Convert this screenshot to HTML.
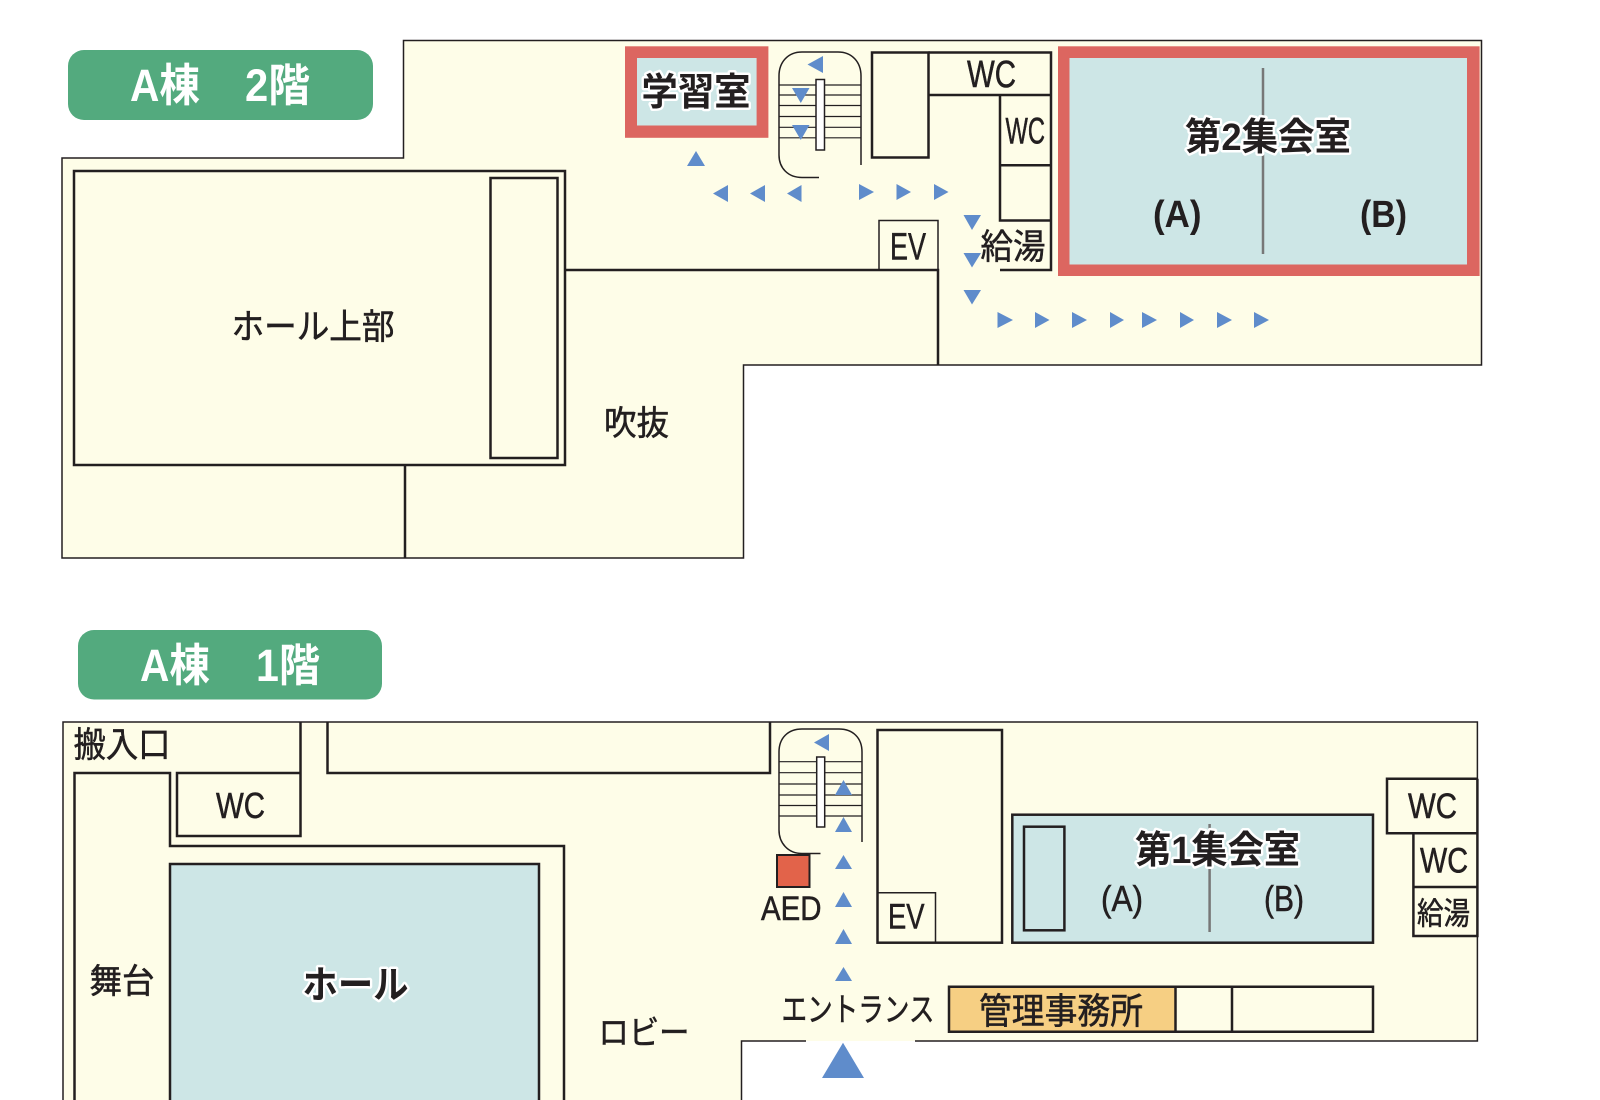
<!DOCTYPE html>
<html lang="ja"><head><meta charset="utf-8"><title>A棟 フロアマップ</title>
<style>
html,body{margin:0;padding:0;background:#fff;width:1600px;height:1100px;overflow:hidden}
svg{display:block}
text{font-family:"Liberation Sans","Noto Sans CJK JP",sans-serif;fill:#231f20;stroke:#231f20;stroke-width:.55px}
.b{font-weight:700;stroke:none}
.h{font-weight:700;paint-order:stroke;stroke:#fff;stroke-width:5px;stroke-linejoin:round}
.w{fill:#fff;font-weight:700;stroke:none}
.l{fill:none;stroke:#231f20;stroke-width:2.5}
.t{fill:none;stroke:#231f20;stroke-width:1.5}
.f{fill:#fefde8;stroke:#231f20;stroke-width:1.5}
.s{fill:none;stroke:#231f20;stroke-width:1.2}
.a{fill:#5f8ccb}
</style></head><body>
<svg width="1600" height="1100" viewBox="0 0 1600 1100" xmlns="http://www.w3.org/2000/svg">
<!-- 2F -->
<path class="f" d="M403.500 40.500H1481.500V365H743.500V558H62V158H403.500Z"/>
<rect x="68" y="50" width="305" height="70" rx="16" fill="#53aa7e"/>
<text class="w" x="130" y="101" font-size="45" textLength="70" lengthAdjust="spacingAndGlyphs">A棟</text>
<text class="w" x="245" y="101" font-size="45" textLength="65" lengthAdjust="spacingAndGlyphs">2階</text>
<rect class="l" x="74" y="171" width="491" height="294"/>
<rect class="l" x="490.500" y="178" width="67" height="280"/>
<path class="l" d="M565 270H938V365M405 465V558"/>
<text x="231.500" y="339" font-size="35" textLength="163" lengthAdjust="spacingAndGlyphs">ホール上部</text>
<text x="604" y="435" font-size="34" textLength="65" lengthAdjust="spacingAndGlyphs">吹抜</text>

<rect x="625" y="46.300" width="143.400" height="91.500" fill="#dc6660"/>
<rect x="637" y="58" width="119.600" height="67.500" fill="#cde6e6"/>
<text class="h" x="641.500" y="105" font-size="38" textLength="109" lengthAdjust="spacingAndGlyphs">学習室</text>

<!-- 2F stairs -->
<path class="t" d="M819 177.500H802C788 177.500 779 168 779 155V76C779 62 788 52 802 52H838C852 52 861 62 861 76V165"/>
<path class="s" d="M779 85H861M779 95H861M779 105.500H861M779 116.500H861M779 127.300H861M779 137.800H861"/>
<rect x="816" y="79.500" width="8.500" height="70.500" fill="#fff" stroke="#231f20" stroke-width="1.500"/>
<path class="a" d="M823 56V73L807.500 64.500Z"/>
<path class="a" d="M792 88H809.500L800.800 103ZM792 125H809.500L800.800 140Z"/>

<rect class="l" x="872" y="52.500" width="56.500" height="105"/>
<path class="l" d="M928.500 52.500H1051V270H1000M928.500 95H1051M1000 95V220.500H1051M1000 165.300H1051"/>
<path class="t" d="M879 270V220.500H938V270"/>
<text x="967" y="87" font-size="38" textLength="49" lengthAdjust="spacingAndGlyphs">WC</text>
<text x="1005.500" y="143.500" font-size="37" textLength="39.500" lengthAdjust="spacingAndGlyphs">WC</text>
<text x="890" y="259.500" font-size="38" textLength="36" lengthAdjust="spacingAndGlyphs">EV</text>
<text x="980.500" y="259" font-size="35" textLength="65" lengthAdjust="spacingAndGlyphs">給湯</text>

<rect x="1058" y="46.300" width="421.600" height="229.700" fill="#dc6660"/>
<rect x="1069.500" y="58" width="397.500" height="206.500" fill="#cde6e6"/>
<path d="M1263 68V254" stroke="#777" stroke-width="2.500" fill="none"/>
<text class="h" x="1185" y="150" font-size="38" textLength="166" lengthAdjust="spacingAndGlyphs">第2集会室</text>
<text class="b" x="1153" y="227" font-size="38" textLength="48.500" lengthAdjust="spacingAndGlyphs">(A)</text>
<text class="b" x="1360" y="227" font-size="38" textLength="47" lengthAdjust="spacingAndGlyphs">(B)</text>

<path class="a" d="M705 166H687L696 151Z"/>
<path class="a" d="M728 185V202L713 193.500ZM765 185V202L750 193.500ZM801.500 185V202L787 193.500Z"/>
<path class="a" d="M859 184V200L874 192ZM896.500 184V200L911 192ZM934 184V200L948.500 192Z"/>
<path class="a" d="M963.500 215H981L972 230ZM963.500 253H981L972 267.500ZM963.500 290H981L972 304.500Z"/>
<path class="a" d="M997.500 312V328L1013 320ZM1035 312V328L1049.500 320ZM1072 312V328L1087 320ZM1110 312V328L1124 320ZM1142 312V328L1157 320ZM1180 312V328L1194 320ZM1217 312V328L1232 320ZM1254 312V328L1269 320Z"/>

<!-- 1F -->
<path d="M63 722H1477.400V1041H741.500V1100H63Z" fill="#fefde8"/>
<path class="t" d="M63 1100V722H1477.400V1041H915M806 1041H741.500V1100"/>
<rect x="78" y="630" width="304" height="69.500" rx="16" fill="#53aa7e"/>
<text class="w" x="140" y="681" font-size="45" textLength="70" lengthAdjust="spacingAndGlyphs">A棟</text>
<text class="w" x="256" y="681" font-size="45" textLength="64" lengthAdjust="spacingAndGlyphs">1階</text>

<rect x="170" y="864" width="369" height="240" fill="#cde6e6" stroke="#231f20" stroke-width="2.5"/>
<path class="l" d="M300.500 722V836H177V773H300.500M74.500 1100V773H170V846H564V1100M327.500 722V773H770V722"/>
<text x="73.500" y="757" font-size="35" textLength="97" lengthAdjust="spacingAndGlyphs">搬入口</text>
<text x="216" y="818" font-size="36" textLength="49" lengthAdjust="spacingAndGlyphs">WC</text>
<text x="89.500" y="993" font-size="34" textLength="65" lengthAdjust="spacingAndGlyphs">舞台</text>
<text class="h" x="302.500" y="998" font-size="38" textLength="106" lengthAdjust="spacingAndGlyphs">ホール</text>
<text x="598.500" y="1044" font-size="33" textLength="91" lengthAdjust="spacingAndGlyphs">ロビー</text>

<!-- 1F stairs -->
<path class="t" d="M820.500 853.500H802C788 853.500 779 843 779 830V752C779 738 788 729 802 729H839C853 729 862 738 862 752V842"/>
<path class="s" d="M779 761.700H862M779 772.700H862M779 784H862M779 795H862M779 805.500H862M779 816H862"/>
<rect x="816.700" y="757" width="8" height="70" fill="#fff" stroke="#231f20" stroke-width="1.500"/>
<path class="a" d="M829 734V751L814 742.500Z"/>
<path class="a" d="M843.500 780L852 795H835ZM843.500 817L852 832H835ZM843.500 855L852 869H835ZM843.500 892L852 907H835ZM843.500 929L852 944H835ZM843.500 967L852 981H835Z"/>
<path class="a" d="M843 1042.700L864 1078H822Z"/>
<rect x="777" y="855" width="32.500" height="32" fill="#e2634a" stroke="#231f20" stroke-width="2"/>
<text x="761" y="920" font-size="34" textLength="60.500" lengthAdjust="spacingAndGlyphs">AED</text>

<rect class="l" x="877.500" y="730" width="124.500" height="212.700"/>
<path class="t" d="M877.500 892.700H935.500V942.700"/>
<text x="888" y="928.500" font-size="35" textLength="36.500" lengthAdjust="spacingAndGlyphs">EV</text>

<rect x="1012.300" y="814.700" width="360.700" height="128" fill="#cde6e6" stroke="#231f20" stroke-width="2.500"/>
<rect class="l" x="1024" y="826.700" width="40.400" height="103.600"/>
<path d="M1209.600 824V932" stroke="#777" stroke-width="2.500" fill="none"/>
<text class="h" x="1135" y="863" font-size="38" textLength="165" lengthAdjust="spacingAndGlyphs">第1集会室</text>
<text x="1101" y="911" font-size="36" textLength="42" lengthAdjust="spacingAndGlyphs">(A)</text>
<text x="1264" y="911" font-size="36" textLength="40" lengthAdjust="spacingAndGlyphs">(B)</text>

<path class="l" d="M1477.400 778.700H1387V833.300H1477.400V936H1413.400V833.300M1413.400 887H1477.400M1477.400 778.700V936"/>
<text x="1408" y="818" font-size="35" textLength="49" lengthAdjust="spacingAndGlyphs">WC</text>
<text x="1420" y="872.700" font-size="35" textLength="48" lengthAdjust="spacingAndGlyphs">WC</text>
<text x="1417" y="924.500" font-size="31" textLength="53" lengthAdjust="spacingAndGlyphs">給湯</text>

<rect x="949" y="986.700" width="226.500" height="45" fill="#f6cf83"/>
<path class="l" d="M949 986.700H1373V1031.700H949ZM1175.500 986.700V1031.700M1232 986.700V1031.700"/>
<text x="979" y="1023.500" font-size="36" textLength="164" lengthAdjust="spacingAndGlyphs">管理事務所</text>
<text x="781.500" y="1021" font-size="33" textLength="153" lengthAdjust="spacingAndGlyphs">エントランス</text>
</svg>
</body></html>
